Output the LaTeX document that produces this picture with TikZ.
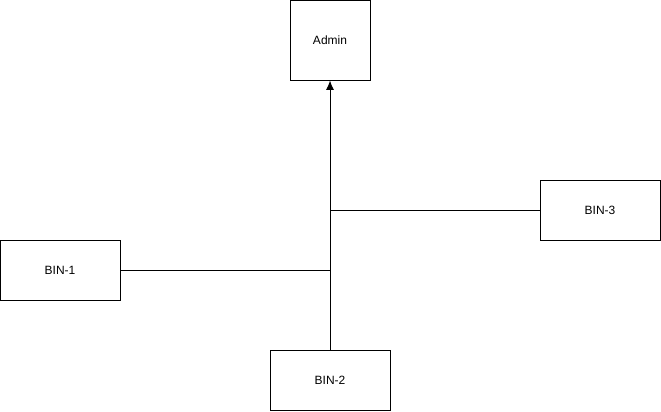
\documentclass[tikz,border=0pt]{standalone}
\usepackage{fontspec}
\setmainfont{Liberation Sans}
\usetikzlibrary{arrows.meta, positioning}

\begin{document}
\begin{tikzpicture}[x=0.75pt, y=-0.75pt, font=\fontsize{9}{11}\selectfont, line width=0.75pt,
    binbox/.style={draw, minimum width=90pt, minimum height=45pt, inner sep=0pt},
    adminbox/.style={draw, minimum width=60pt, minimum height=60pt, inner sep=0pt}]
    \useasboundingbox (0,0) rectangle (661,411);
    \node[adminbox] (admin) at (330,40) {Admin};
    \node[binbox] (bin3) at (600,210) {BIN-3};
    \node[binbox] (bin1) at (60,270) {BIN-1};
    \node[binbox] (bin2) at (330,380) {BIN-2};
    \draw[-{Latex[length=7pt, width=6pt]}] (bin2.north) -- (admin.south);
    \draw (bin1.east) -- (bin1.east -| admin.south);
    \draw (bin3.west) -- (bin3.west -| admin.south);
  \end{tikzpicture}
\end{document}
